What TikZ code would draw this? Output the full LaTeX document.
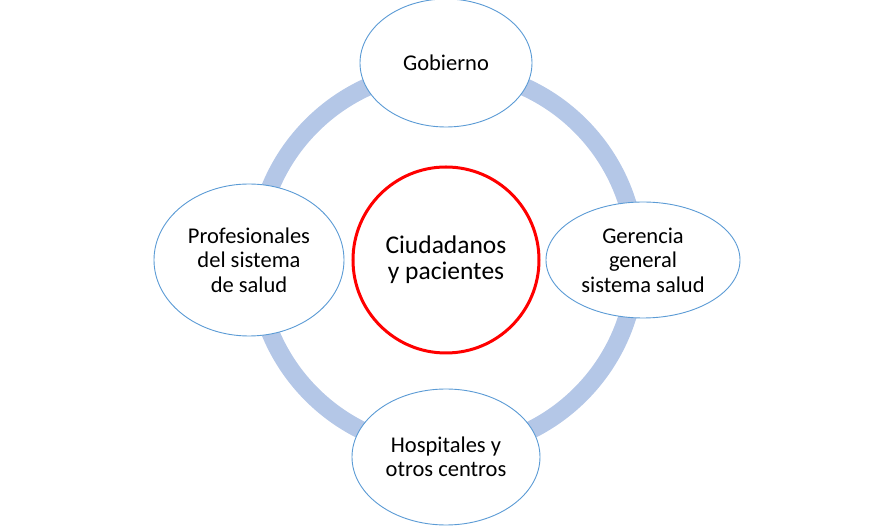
\documentclass[tikz,border=0pt]{standalone}
\usepackage{fontspec}
\setmainfont{Carlito}
\usetikzlibrary{shapes.geometric,positioning}
\definecolor{anillo}{HTML}{B4C7E7}
\definecolor{borde}{HTML}{5B9BD5}

\begin{document}
\begin{tikzpicture}[node distance=197pt,
    actor/.style={shape=ellipse,draw=borde,line width=0.9pt,fill=white,inner sep=0pt,align=center,font=\fontsize{22.5}{24.5}\selectfont}]
            \useasboundingbox (-446pt,-266pt) rectangle (448pt,260pt);
            \node[shape=circle,draw=red,line width=3pt,minimum size=186pt,align=center,font=\fontsize{25.5}{26}\selectfont] (c) at (0,0) {Ciudadanos\\y pacientes};
            \draw[anillo,line width=18pt] (c.center) circle (190pt);

            \node[actor,minimum width=172pt,minimum height=128pt] (g) [above of=c] {Gobierno};
            \node[actor,minimum width=194pt,minimum height=116pt] (ger) [right of=c] {Gerencia\\general\\sistema salud};
            \node[actor,minimum width=188pt,minimum height=136pt] (h) [below of=c] {Hospitales y\\otros centros};
            \node[actor,minimum width=190pt,minimum height=152pt] (p) [left of=c] {Profesionales\\del sistema\\de salud};
\end{tikzpicture}
\end{document}
